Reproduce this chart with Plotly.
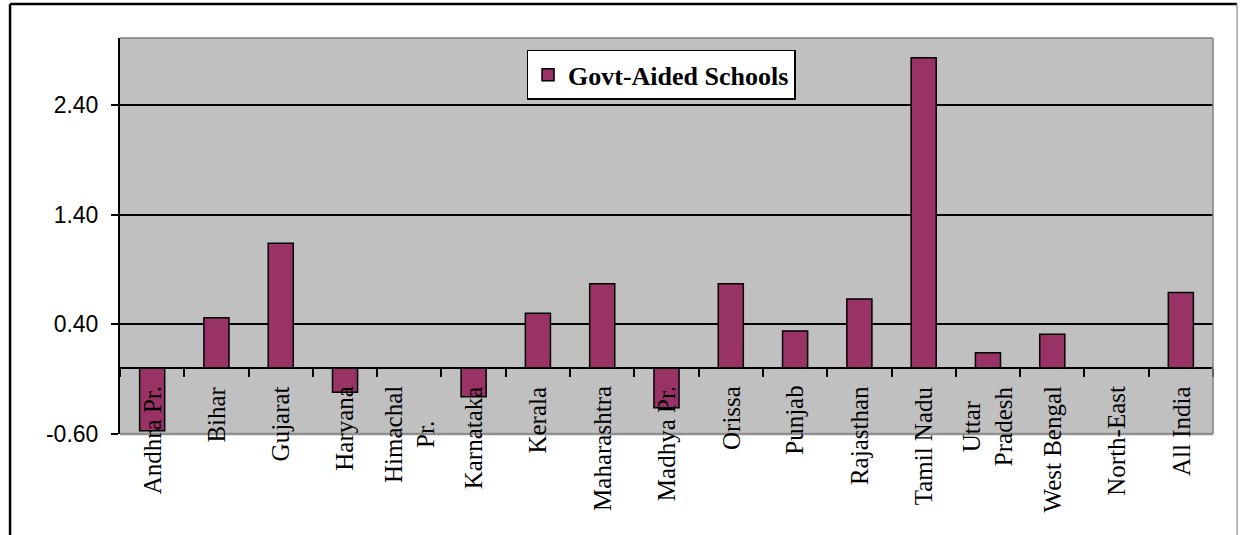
import plotly.graph_objects as go

categories = ["Andhra Pr.", "Bihar", "Gujarat", "Haryana", "Himachal Pr.", "Karnataka",
              "Kerala", "Maharashtra", "Madhya Pr.", "Orissa", "Punjab", "Rajasthan",
              "Tamil Nadu", "Uttar Pradesh", "West Bengal", "North-East", "All India"]
tick_labels = ["Andhra Pr.", "Bihar", "Gujarat", "Haryana", "Himachal<br>Pr.", "Karnataka",
               "Kerala", "Maharashtra", "Madhya Pr.", "Orissa", "Punjab", "Rajasthan",
               "Tamil Nadu", "Uttar<br>Pradesh", "West Bengal", "North-East", "All India"]
govt_aided = [-0.57, 0.46, 1.14, -0.22, 0.0, -0.26, 0.50, 0.77, -0.36, 0.77, 0.34,
              0.63, 2.83, 0.14, 0.31, 0.0, 0.69]
series_name = "Govt-Aided Schools"
y_tick_vals = [-0.6, 0.4, 1.4, 2.4]
y_tick_text = ["-0.60", "0.40", "1.40", "2.40"]
y_min, y_max = -0.6, 3.01

fig = go.Figure()
fig.add_trace(go.Bar(
    x=categories, y=govt_aided, name=series_name,
    marker=dict(color="#993366", line=dict(color="black", width=1.5)),
    showlegend=True,
))

zero_pos = (0 - y_min) / (y_max - y_min)

annotations = [
    dict(x=cat, y=0, xref="x", yref="y", text=lab, textangle=-90,
         showarrow=False, xanchor="center", yanchor="top", yshift=-16,
         align="center",
         font=dict(family="Liberation Serif", size=25, color="black"))
    for cat, lab in zip(categories, tick_labels)
]

fig.update_layout(
    width=1243, height=535,
    margin=dict(l=120, r=30, t=38, b=101),
    paper_bgcolor="white",
    plot_bgcolor="#C0C0C0",
    bargap=0.61,
    showlegend=True,
    legend=dict(
        x=0.495, y=0.907, xanchor="center", yanchor="middle",
        bgcolor="white", bordercolor="black", borderwidth=1.5,
        font=dict(family="Liberation Serif", size=26, color="black", weight="bold"),
    ),
    xaxis=dict(
        type="category",
        categoryorder="array", categoryarray=categories,
        showticklabels=False,
        anchor="free", position=zero_pos,
        showline=True, linecolor="black", linewidth=2,
        ticks="outside", ticklen=8, tickcolor="black", tickwidth=2,
        tickson="boundaries",
        showgrid=False,
    ),
    yaxis=dict(
        range=[y_min, y_max],
        tickvals=y_tick_vals, ticktext=y_tick_text,
        showgrid=True, gridcolor="black", gridwidth=2,
        zeroline=True, zerolinecolor="black", zerolinewidth=2,
        showline=True, linecolor="black", linewidth=2,
        ticks="outside", ticklen=7, tickcolor="black", tickwidth=2,
        tickfont=dict(family="Liberation Sans", size=23, color="black"),
        ticklabelstandoff=8,
    ),
    annotations=annotations,
    shapes=[
        dict(type="line", xref="paper", yref="paper", x0=0, x1=1, y0=1, y1=1,
             line=dict(color="#808080", width=1.5), layer="above"),
        dict(type="line", xref="paper", yref="paper", x0=1, x1=1, y0=0, y1=1,
             line=dict(color="#808080", width=1.5), layer="above"),
        dict(type="line", xref="paper", yref="paper", x0=0, x1=1, y0=0, y1=0,
             line=dict(color="#909090", width=2.5), layer="above"),
        dict(type="line", xref="paper", yref="paper", x0=-0.1006, x1=1.022, y0=1.0859, y1=1.0859,
             line=dict(color="black", width=2.5)),
        dict(type="line", xref="paper", yref="paper", x0=-0.1006, x1=-0.1006, y0=1.0859, y1=-0.3,
             line=dict(color="black", width=2.5)),
        dict(type="line", xref="paper", yref="paper", x0=1.022, x1=1.022, y0=1.0859, y1=-0.3,
             line=dict(color="#A0A0A0", width=1.5)),
    ],
)

fig.write_html("out.html")
